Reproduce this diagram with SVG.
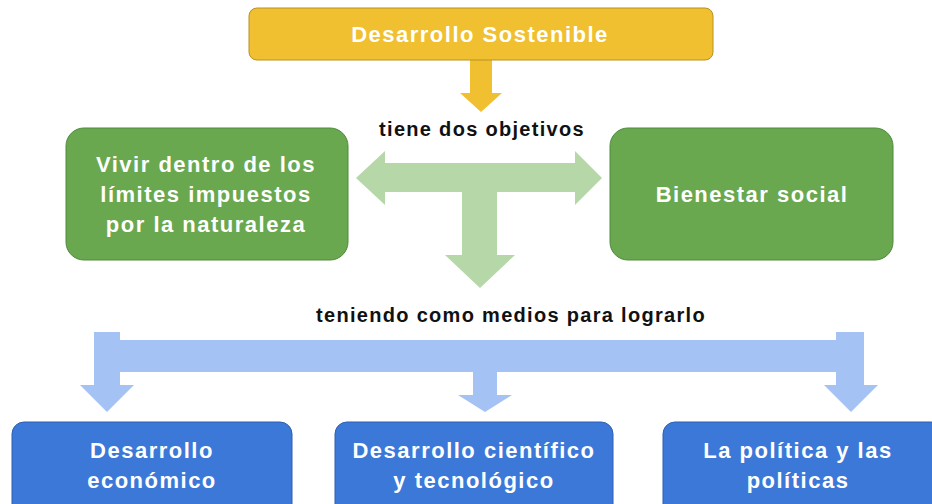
<svg xmlns="http://www.w3.org/2000/svg" width="932" height="504" viewBox="0 0 932 504">
<style>
.t{font-family:"Liberation Sans",Arial,sans-serif;font-weight:bold;text-anchor:middle}
.w{fill:#fff;font-size:22px;letter-spacing:1.5px}
.k{fill:#111;font-size:20px;letter-spacing:1.3px}
.box{stroke-width:1}
</style>
<rect width="932" height="504" fill="#fff"/>
<g id="connectors">
<polygon points="470,60 492,60 492,93 502,93 481,112 460,93 470,93" fill="#F0C030"/>
<polygon points="356,178 385,151 385,163 462,163 497,163 575,163 575,151 602,178 575,205 575,192 497,192 497,255 515,255 480,288 445,255 462,255 462,192 385,192 385,205" fill="#B6D7A8"/>
<polygon points="94,332 120,332 120,340 473,340 836,340 836,332 864,332 864,385 878,385 851,412 824,385 836,385 836,372 497,372 497,395 512,395 485,412 458,395 473,395 473,372 120,372 120,385 134,385 107,412 80,385 94,385" fill="#A4C2F4"/>
</g>
<g id="n-top">
<rect x="249" y="8" width="464" height="52" rx="8" fill="#F0C030" stroke="#B89020" class="box"/>
<text class="t w" x="480" y="42">Desarrollo Sostenible</text>
</g>
<g id="lbl-1"><text class="t k" x="482" y="136">tiene dos objetivos</text></g>
<g id="n-left">
<rect x="66" y="128" width="282" height="132" rx="18" fill="#6AA84F" stroke="#4E8A3A" class="box"/>
<text class="t w" x="206" y="172">Vivir dentro de los</text>
<text class="t w" x="206" y="202">límites impuestos</text>
<text class="t w" x="206" y="232">por la naturaleza</text>
</g>
<g id="n-right">
<rect x="610" y="128" width="283" height="132" rx="18" fill="#6AA84F" stroke="#4E8A3A" class="box"/>
<text class="t w" x="752" y="202">Bienestar social</text>
</g>
<g id="lbl-2"><text class="t k" x="511" y="322">teniendo como medios para lograrlo</text></g>
<g id="n-b1">
<rect x="12" y="422" width="280" height="100" rx="12" fill="#3C78D8" stroke="#2E5FB0" class="box"/>
<text class="t w" x="152" y="458">Desarrollo</text>
<text class="t w" x="152" y="488">económico</text>
</g>
<g id="n-b2">
<rect x="335" y="422" width="278" height="100" rx="12" fill="#3C78D8" stroke="#2E5FB0" class="box"/>
<text class="t w" x="474" y="458">Desarrollo científico</text>
<text class="t w" x="474" y="488">y tecnológico</text>
</g>
<g id="n-b3">
<rect x="663" y="422" width="280" height="100" rx="12" fill="#3C78D8" stroke="#2E5FB0" class="box"/>
<text class="t w" x="798" y="458">La política y las</text>
<text class="t w" x="798" y="488">políticas</text>
</g>
</svg>
